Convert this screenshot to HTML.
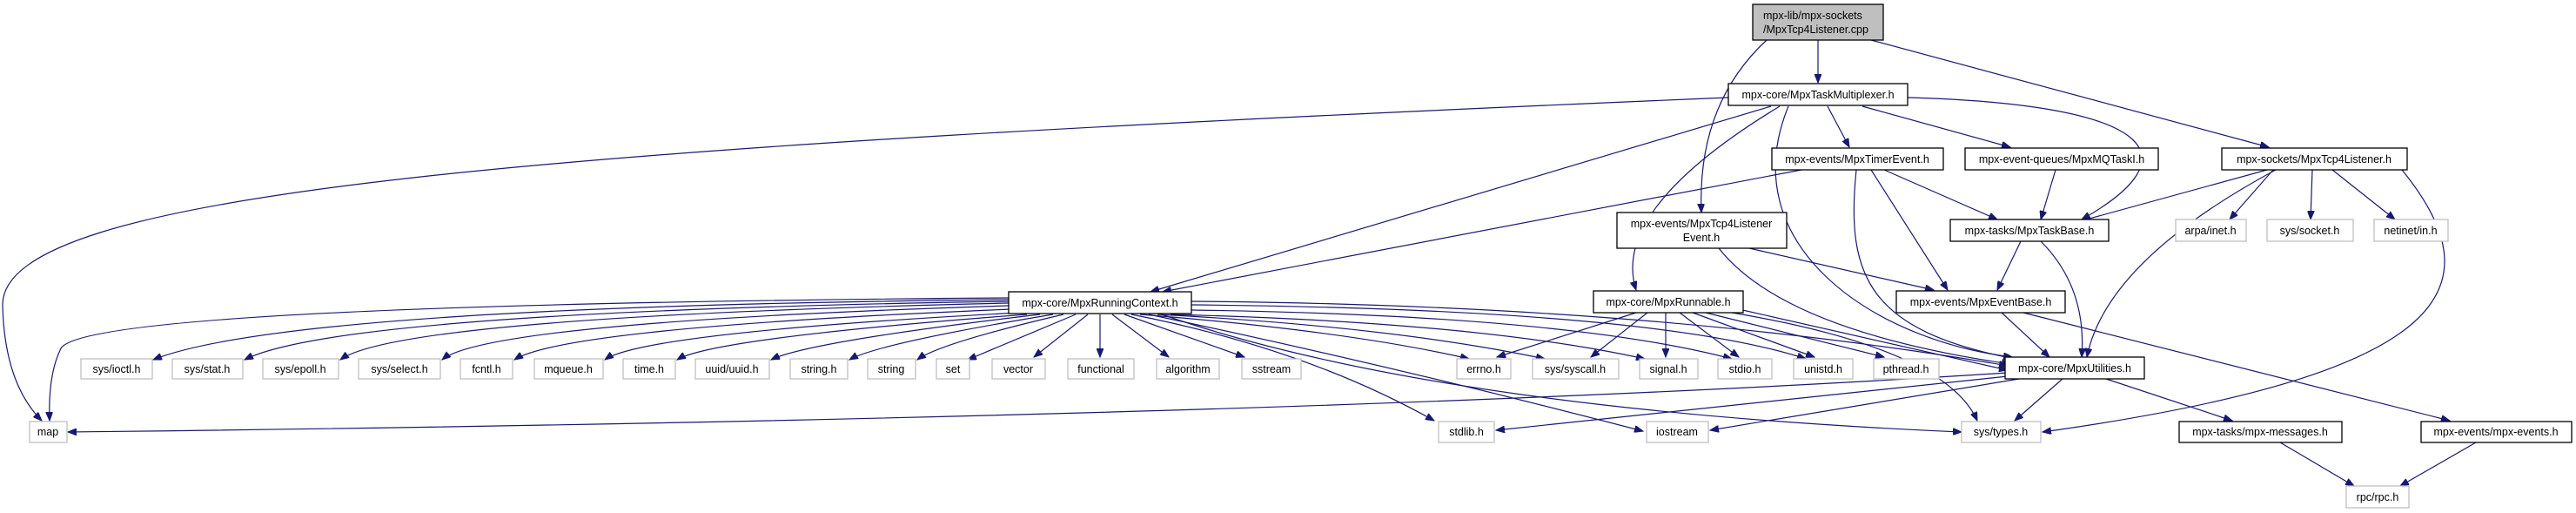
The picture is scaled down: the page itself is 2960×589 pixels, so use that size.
<!DOCTYPE html>
<html><head><meta charset="utf-8"><style>
html,body{margin:0;padding:0;background:#fff;}
svg{display:block;}
text{font-family:"Liberation Sans",sans-serif;font-size:12.5px;fill:#000;}
.b{fill:#fff;stroke:#000;stroke-width:1.3;}
.g{fill:#fff;stroke:#bfbfbf;stroke-width:1.3;}
.e{fill:none;stroke:#191970;stroke-width:1.2;marker-end:url(#a);}
</style></head><body>
<svg width="2960" height="589" viewBox="0 0 2960 589" xmlns="http://www.w3.org/2000/svg">
<defs><marker id="a" markerUnits="userSpaceOnUse" markerWidth="11" markerHeight="8" refX="10" refY="4" orient="auto"><path d="M0,0 L10,4 L0,8 z" fill="#191970" stroke="#191970"/></marker></defs>

<!-- edges -->
<path class="e" d="M2089,46 L2089,95"/>
<path class="e" d="M2030,46 Q1950,120 1955,244"/>
<path class="e" d="M2150,46 L2607,169"/>
<path class="e" d="M1986,112 C600,170 3,220 3,350 Q5,440 48,483"/>
<path class="e" d="M2035,122 L1322,335"/>
<path class="e" d="M2070,195 L1336,335"/>
<path class="e" d="M2045,122 Q1850,240 1880,333"/>
<path class="e" d="M2055,122 C1990,280 2150,390 2312,410"/>
<path class="e" d="M2100,122 L2125,169"/>
<path class="e" d="M2140,122 L2310,169"/>
<path class="e" d="M2192,112 C2480,120 2520,180 2392,252"/>
<path class="e" d="M2165,195 L2295,252"/>
<path class="e" d="M2150,195 L2238,333"/>
<path class="e" d="M2133,195 C2120,320 2150,380 2315,412"/>
<path class="e" d="M2362,195 L2345,252"/>
<path class="e" d="M2605,195 L2390,254"/>
<path class="e" d="M2612,195 L2562,252"/>
<path class="e" d="M2657,195 L2655,252"/>
<path class="e" d="M2680,195 L2752,252"/>
<path class="e" d="M2615,195 Q2420,300 2398,410"/>
<path class="e" d="M2760,195 C2870,330 2820,430 2347,496"/>
<path class="e" d="M2010,285 L2222,333"/>
<path class="e" d="M1975,285 Q2050,380 2310,418"/>
<path class="e" d="M2322,277 L2295,333"/>
<path class="e" d="M2345,277 Q2398,330 2392,410"/>
<path class="e" d="M2300,359 L2355,410"/>
<path class="e" d="M2325,359 L2815,483"/>
<!-- RunningContext fan -->
<path class="e" d="M1159,344 Q330,352 176,413"/>
<path class="e" d="M1159,346 Q390,358 281,413"/>
<path class="e" d="M1159,348 Q460,364 391,413"/>
<path class="e" d="M1159,351 Q560,370 508,413"/>
<path class="e" d="M1162,355 Q650,376 591,413"/>
<path class="e" d="M1170,359 Q740,382 695,413"/>
<path class="e" d="M1180,361 Q820,388 778,413"/>
<path class="e" d="M1195,361 Q930,392 886,413"/>
<path class="e" d="M1210,361 Q1010,394 976,413"/>
<path class="e" d="M1222,361 Q1080,394 1054,413"/>
<path class="e" d="M1236,361 L1112,413"/>
<path class="e" d="M1250,361 L1188,410"/>
<path class="e" d="M1264,361 L1264,410"/>
<path class="e" d="M1278,361 L1343,410"/>
<path class="e" d="M1292,361 L1430,410"/>
<path class="e" d="M1159,342 Q100,350 70,400 Q55,430 57,483"/>
<path class="e" d="M1310,361 Q1550,380 1688,412"/>
<path class="e" d="M1330,361 Q1600,375 1775,412"/>
<path class="e" d="M1345,361 Q1700,370 1890,412"/>
<path class="e" d="M1369,356 Q1800,362 1990,412"/>
<path class="e" d="M1369,350 Q1900,355 2075,412"/>
<path class="e" d="M1369,346 Q1900,350 2307,420"/>
<path class="e" d="M1300,361 Q1500,400 1648,483"/>
<path class="e" d="M1320,361 Q1600,420 1888,495"/>
<path class="e" d="M1335,361 Q1650,470 2254,496"/>
<!-- Runnable -->
<path class="e" d="M1880,359 L1720,410"/>
<path class="e" d="M1893,359 L1828,410"/>
<path class="e" d="M1914,359 L1914,410"/>
<path class="e" d="M1930,359 L1998,410"/>
<path class="e" d="M1945,359 L2085,410"/>
<path class="e" d="M1960,359 L2165,410"/>
<path class="e" d="M1998,355 L2307,425"/>
<path class="e" d="M1990,359 Q2235,400 2272,483"/>
<!-- Utilities -->
<path class="e" d="M2307,428 Q1500,480 78,496"/>
<path class="e" d="M2307,432 L1719,494"/>
<path class="e" d="M2320,435 L1965,494"/>
<path class="e" d="M2370,435 L2315,483"/>
<path class="e" d="M2420,435 L2565,483"/>
<path class="e" d="M2620,508 L2705,558"/>
<path class="e" d="M2845,508 L2758,558"/>

<!-- nodes -->
<rect x="2014" y="5" width="150" height="41" fill="#bfbfbf" stroke="#000" stroke-width="1.3"/>
<text x="2026" y="22">mpx-lib/mpx-sockets</text><text x="2026" y="38">/MpxTcp4Listener.cpp</text>
<rect class="b" x="1986" y="96" width="206" height="25"/><text x="2089" y="113" text-anchor="middle">mpx-core/MpxTaskMultiplexer.h</text>
<rect class="b" x="2036" y="170" width="197" height="25"/><text x="2134" y="187" text-anchor="middle">mpx-events/MpxTimerEvent.h</text>
<rect class="b" x="2258" y="170" width="222" height="25"/><text x="2369" y="187" text-anchor="middle">mpx-event-queues/MpxMQTaskI.h</text>
<rect class="b" x="2553" y="170" width="213" height="25"/><text x="2659" y="187" text-anchor="middle">mpx-sockets/MpxTcp4Listener.h</text>
<rect class="b" x="1858" y="244" width="195" height="41"/><text x="1955" y="261" text-anchor="middle">mpx-events/MpxTcp4Listener</text><text x="1955" y="277" text-anchor="middle">Event.h</text>
<rect class="b" x="2241" y="252" width="182" height="25"/><text x="2332" y="269" text-anchor="middle">mpx-tasks/MpxTaskBase.h</text>
<rect class="g" x="2500" y="252" width="81" height="25"/><text x="2540" y="269" text-anchor="middle">arpa/inet.h</text>
<rect class="g" x="2605" y="252" width="99" height="25"/><text x="2654" y="269" text-anchor="middle">sys/socket.h</text>
<rect class="g" x="2728" y="252" width="85" height="25"/><text x="2770" y="269" text-anchor="middle">netinet/in.h</text>
<rect class="b" x="1159" y="335" width="210" height="25"/><text x="1264" y="352" text-anchor="middle">mpx-core/MpxRunningContext.h</text>
<rect class="b" x="1831" y="334" width="172" height="25"/><text x="1917" y="351" text-anchor="middle">mpx-core/MpxRunnable.h</text>
<rect class="b" x="2179" y="334" width="194" height="25"/><text x="2276" y="351" text-anchor="middle">mpx-events/MpxEventBase.h</text>
<rect class="b" x="2304" y="410" width="160" height="25"/><text x="2384" y="427" text-anchor="middle">mpx-core/MpxUtilities.h</text>

<g>
<rect class="g" x="93" y="412" width="82" height="23"/><text x="134" y="428" text-anchor="middle">sys/ioctl.h</text>
<rect class="g" x="198" y="412" width="81" height="23"/><text x="238" y="428" text-anchor="middle">sys/stat.h</text>
<rect class="g" x="302" y="412" width="87" height="23"/><text x="345" y="428" text-anchor="middle">sys/epoll.h</text>
<rect class="g" x="412" y="412" width="94" height="23"/><text x="459" y="428" text-anchor="middle">sys/select.h</text>
<rect class="g" x="529" y="412" width="60" height="23"/><text x="559" y="428" text-anchor="middle">fcntl.h</text>
<rect class="g" x="614" y="412" width="79" height="23"/><text x="653" y="428" text-anchor="middle">mqueue.h</text>
<rect class="g" x="716" y="412" width="60" height="23"/><text x="746" y="428" text-anchor="middle">time.h</text>
<rect class="g" x="799" y="412" width="85" height="23"/><text x="841" y="428" text-anchor="middle">uuid/uuid.h</text>
<rect class="g" x="908" y="412" width="66" height="23"/><text x="941" y="428" text-anchor="middle">string.h</text>
<rect class="g" x="997" y="412" width="55" height="23"/><text x="1024" y="428" text-anchor="middle">string</text>
<rect class="g" x="1076" y="412" width="38" height="23"/><text x="1095" y="428" text-anchor="middle">set</text>
<rect class="g" x="1140" y="412" width="61" height="23"/><text x="1170" y="428" text-anchor="middle">vector</text>
<rect class="g" x="1227" y="412" width="76" height="23"/><text x="1265" y="428" text-anchor="middle">functional</text>
<rect class="g" x="1329" y="412" width="72" height="23"/><text x="1365" y="428" text-anchor="middle">algorithm</text>
<rect class="g" x="1427" y="412" width="68" height="23"/><text x="1461" y="428" text-anchor="middle">sstream</text>
<rect class="g" x="1674" y="412" width="62" height="23"/><text x="1705" y="428" text-anchor="middle">errno.h</text>
<rect class="g" x="1761" y="412" width="99" height="23"/><text x="1810" y="428" text-anchor="middle">sys/syscall.h</text>
<rect class="g" x="1884" y="412" width="67" height="23"/><text x="1917" y="428" text-anchor="middle">signal.h</text>
<rect class="g" x="1974" y="412" width="62" height="23"/><text x="2005" y="428" text-anchor="middle">stdio.h</text>
<rect class="g" x="2061" y="412" width="68" height="23"/><text x="2095" y="428" text-anchor="middle">unistd.h</text>
<rect class="g" x="2153" y="412" width="75" height="23"/><text x="2190" y="428" text-anchor="middle">pthread.h</text>
</g>
<rect class="g" x="34" y="484" width="43" height="24"/><text x="55" y="500" text-anchor="middle">map</text>
<rect class="g" x="1653" y="484" width="64" height="24"/><text x="1685" y="500" text-anchor="middle">stdlib.h</text>
<rect class="g" x="1892" y="484" width="71" height="24"/><text x="1927" y="500" text-anchor="middle">iostream</text>
<rect class="g" x="2254" y="484" width="91" height="24"/><text x="2299" y="500" text-anchor="middle">sys/types.h</text>
<rect class="b" x="2504" y="484" width="187" height="24"/><text x="2597" y="500" text-anchor="middle">mpx-tasks/mpx-messages.h</text>
<rect class="b" x="2782" y="484" width="173" height="24"/><text x="2868" y="500" text-anchor="middle">mpx-events/mpx-events.h</text>
<rect class="g" x="2696" y="558" width="72" height="25"/><text x="2732" y="575" text-anchor="middle">rpc/rpc.h</text>
</svg>
</body></html>
